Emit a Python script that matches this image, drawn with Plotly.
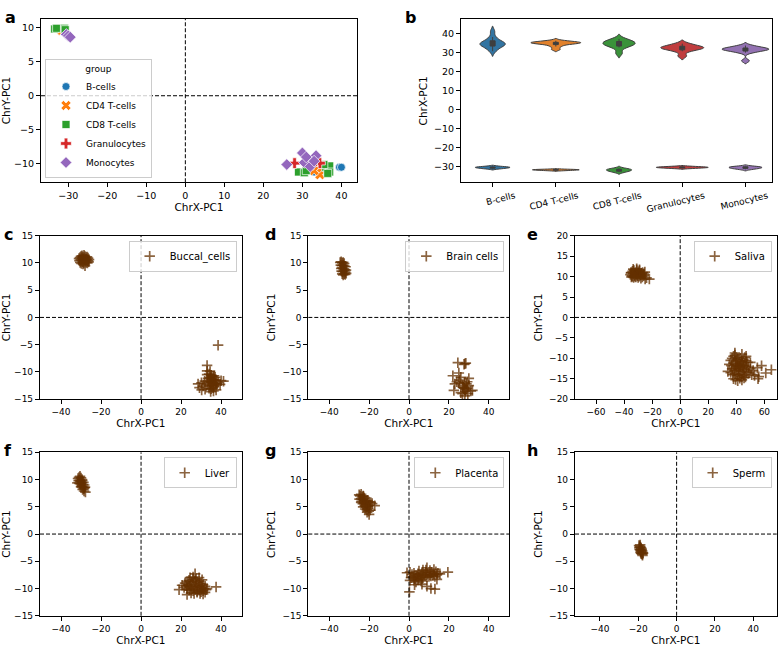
import plotly.graph_objects as go

# ---------------- data ----------------
groups = ["B-cells", "CD4 T-cells", "CD8 T-cells", "Granulocytes", "Monocytes"]

# panel a: ChrX-PC1 (x) vs ChrY-PC1 (y) per group
a_bcells_x = [39.5, 40.0, 33.0, 34.0, 35.0, 36.0]
a_bcells_y = [-10.5, -10.5, -11.2, -11.0, -10.8, -10.4]
a_cd4_x = [34.5, 33.0, 35.0, -32.0, -31.7]
a_cd4_y = [-11.6, -11.0, -10.6, 9.8, 9.6]
a_cd8_x = [29.0, 30.5, 31.0, 36.0, 37.0, 37.0, 36.5, 35.5, -33.5, -33.0, -31.0, -30.8]
a_cd8_y = [-11.2, -11.3, -11.0, -10.5, -10.3, -11.2, -11.4, -10.1, 9.8, 9.9, 9.9, 9.7]
a_gran_x = [28.0, 34.5, 32.5]
a_gran_y = [-9.9, -9.9, -10.1]
a_mono_x = [26.0, 30.0, 31.5, 33.5, 30.5, 32.0, 31.0, 33.0, -30.5, -30.0, -29.5]
a_mono_y = [-10.1, -8.4, -9.4, -8.8, -9.8, -10.4, -9.0, -9.6, 9.0, 8.8, 8.6]

# panel b: ChrX-PC1 samples per group (upper and lower mode)
b_top = [
    [30.5, 32.0, 33.0, 33.5, 34.0, 34.3, 34.6, 35.0, 35.5, 36.5, 38.0, 41.0],
    [31.5, 33.0, 34.0, 34.5, 34.8, 35.0, 35.0, 35.2, 35.5, 36.0],
    [29.5, 32.5, 33.5, 34.0, 34.5, 35.0, 35.5, 36.0, 37.0],
    [28.0, 30.5, 31.5, 32.0, 32.2, 32.5, 33.0, 33.5, 34.5],
    [25.5, 29.8, 30.5, 31.0, 31.3, 31.5, 31.7, 32.0, 32.3, 32.8, 33.5],
]
b_bottom = [
    [-31.2, -30.9, -30.6, -30.5, -30.3, -30.0],
    [-32.2, -32.0, -31.9, -31.8, -31.7, -31.6, -31.5],
    [-33.0, -32.5, -32.0, -31.8, -31.5, -31.0],
    [-31.0, -30.8, -30.6, -30.5, -30.4, -30.2, -30.0],
    [-31.5, -31.0, -30.8, -30.5, -30.2, -30.0],
]

# panels c-h: tissue samples
c_name = "Buccal_cells"
c_x = [-31.0, -30.5, -30.0, -29.5, -29.0, -28.5, -28.0, -27.5, -27.0, -26.5, -30.8, -30.2, -29.6, -29.0, -28.4, -27.8,
       -27.2, -26.6, -26.2, -30.4, -29.8, -29.2, -28.6, -28.0, -27.4, -26.8, -29.5, -28.5, -27.5, -28.0, -29.0, -26.0,
       33, 34, 35, 36, 37, 33.5, 34.5, 35.5, 36.5, 37.5, 34, 35, 36, 37, 33, 34.5, 35.5, 36.5, 38, 34, 35, 36, 33.5, 35,
       36.5, 37.5, 38.5, 34.5,
       38.5, 33.0, 33.0, 28.5, 29.2, 30.3, 31.0, 30.2, 32.0, 40.0, 41.2, 39.5, 37.5, 36.2, 34.8, 31.8]
c_y = [10.8, 11.0, 11.2, 11.3, 11.1, 11.4, 11.2, 11.0, 11.1, 10.9, 10.4, 10.6, 10.5, 10.7, 10.6, 10.5,
       10.6, 10.4, 10.2, 10.1, 9.9, 10.2, 10.0, 10.3, 10.1, 10.0, 10.9, 10.8, 10.7, 9.5, 9.8, 10.6,
       -10.5, -10.4, -10.6, -10.8, -11.0, -11.2, -11.1, -11.3, -11.4, -11.5, -11.8, -11.9, -12.0, -12.1, -12.2, -12.4,
       -12.5, -12.6, -12.2, -13.0, -13.1, -12.9, -11.6, -10.9, -10.7, -12.4, -11.9, -9.9,
       -5.1, -8.8, -9.8, -12.2, -12.9, -13.3, -12.6, -12.0, -13.2, -11.6, -11.7, -12.3, -13.3, -13.5, -13.6, -11.7]

d_name = "Brain cells"
d_x = [-34.5, -34.0, -33.5, -33.0, -32.5, -34.2, -33.6, -33.0, -32.4, -31.8, -34.0, -33.4, -32.8, -32.2, -31.6, -33.8,
       -33.2, -32.6, -32.0, -33.5, -32.5, -31.5, -33.0, -32.0,
       24.5, 28.0, 28.5, 27.6, 22.0, 25.0, 23.0, 22.5, 25.0, 26.0, 27.0, 28.0, 29.0, 30.0, 31.0, 28.0, 27.5, 29.5, 30.0,
       26.0, 24.0, 25.5, 27.0, 28.5, 28.8, 27.8, 28.2, 29.2, 26.8, 31.8]
d_y = [10.1, 10.2, 10.0, 10.1, 9.9, 9.6, 9.5, 9.6, 9.4, 9.3, 9.0, 9.1, 8.9, 8.8, 8.7, 8.5,
       8.4, 8.6, 8.3, 8.0, 8.0, 8.1, 7.8, 7.9,
       -8.3, -8.5, -8.4, -8.6, -10.7, -10.2, -12.2, -13.4, -12.0, -11.0, -12.5, -12.0, -13.0, -11.2, -13.5, -14.4, -13.0,
       -14.0, -12.5, -13.8, -11.8, -11.5, -12.8, -13.2, -12.2, -12.9, -13.6, -11.8, -14.0, -13.4]

e_name = "Saliva"
e_x = [-35.5, -35.0, -34.5, -34.0, -33.5, -33.0, -32.5, -32.0, -31.5, -31.0, -30.5, -30.0, -29.5, -29.0, -28.5, -34.8,
       -34.0, -33.2, -32.4, -31.6, -30.8, -30.0, -29.2, -28.4, -27.6, -26.8, -26.0, -25.2, -28.0, -27.0, -26.0, -25.0,
       -24.0, -22.0, -33.5, -31.0, -29.0, -35.0,
       36, 37, 38, 39, 40, 41, 42, 43, 44, 45, 46, 47, 48, 35, 36.5, 38, 39.5, 41, 42.5, 44, 45.5, 47, 48.5, 50, 37,
       38.5, 40, 41.5, 43, 44.5, 46, 47.5, 49, 36, 37.5, 39, 40.5, 42, 43.5, 45, 46.5, 38, 39.5, 41, 42.5, 44, 45.5, 40,
       41.5, 43, 39, 44, 47, 50, 52, 34, 51, 40, 42, 45,
       55, 58, 61, 65, 55.5, 53, 56]
e_y = [10.5, 11.0, 10.2, 11.3, 10.7, 11.5, 10.3, 11.0, 10.6, 11.6, 10.2, 11.2, 10.8, 11.4, 10.5, 9.9,
       10.0, 9.8, 10.1, 9.9, 10.4, 9.8, 10.1, 10.3, 10.8, 11.0, 10.6, 11.1, 9.6, 9.9, 10.2, 9.4,
       9.7, 9.4, 11.8, 11.9, 11.7, 10.9,
       -10.5, -10.0, -9.5, -9.2, -9.8, -10.2, -10.6, -10.0, -10.8, -10.4, -9.8, -10.6, -11.0, -11.5, -11.8, -11.2, -11.6,
       -11.4, -11.9, -11.3, -11.7, -12.0, -12.2, -12.6, -12.6, -13.0, -12.4, -12.8, -12.5, -13.2, -12.8, -13.4, -13.6,
       -13.5, -14.0, -13.8, -14.2, -13.9, -14.4, -14.1, -14.6, -15.0, -15.2, -15.5, -14.9, -15.3, -14.8, -12.0, -13.0,
       -11.6, -8.7, -9.0, -9.5, -11.0, -13.0, -13.2, -14.0, -10.8, -12.2, -12.0,
       -12.3, -11.8, -13.6, -12.8, -15.0, -14.2, -14.5]

f_name = "Liver"
f_x = [-31.5, -31.0, -30.5, -30.0, -29.5, -31.2, -30.6, -30.0, -29.4, -28.8, -30.8, -30.2, -29.6, -29.0, -28.4, -30.0,
       -29.4, -28.8, -28.2, -29.2, -28.6, -28.0, -28.5, -27.8, -30.5, -31.8,
       22, 23, 24, 25, 26, 27, 28, 29, 30, 31, 32, 22.5, 23.5, 24.5, 25.5, 26.5, 27.5, 28.5, 29.5, 30.5, 31.5, 32.5, 23,
       24, 25, 26, 27, 28, 29, 30, 31, 32, 24.5, 26, 27.5, 29, 30.5, 25, 26.5, 28, 29.5, 31, 33, 21.5, 27,
       19.0, 23.0, 37.5, 20.5]
f_y = [10.2, 10.4, 10.6, 10.3, 10.0, 9.8, 9.9, 9.7, 9.8, 9.5, 9.3, 9.2, 9.4, 9.1, 9.0, 8.7,
       8.8, 8.6, 8.5, 8.2, 8.3, 8.6, 7.9, 7.7, 9.6, 9.4,
       -9.0, -8.7, -8.5, -8.8, -8.3, -8.6, -8.9, -8.7, -9.1, -9.3, -9.6, -9.5, -9.3, -9.6, -9.2, -9.8, -9.4, -9.7, -9.5,
       -9.9, -10.0, -10.2, -10.1, -10.3, -10.0, -10.4, -10.2, -10.5, -10.3, -10.6, -10.4, -10.7, -8.0, -7.9, -8.2, -8.0,
       -8.4, -10.8, -10.9, -10.7, -10.9, -11.0, -10.0, -9.8, -7.3,
       -10.2, -11.1, -9.7, -9.4]

g_name = "Placenta"
g_x = [-25.0, -24.5, -24.0, -23.5, -23.0, -22.5, -24.8, -24.0, -23.2, -22.4, -21.6, -20.8, -24.0, -23.2, -22.4, -21.6,
       -20.8, -20.0, -19.2, -23.0, -22.2, -21.4, -20.6, -19.8, -18.5, -17.2, -22.0, -21.2, -20.4, -21.0, -20.2, -19.5,
       -20.0, -23.8, -22.8,
       -1.0, 0.5, 1.5, 2.5, 3.5, 4.5, 5.5, 6.5, 7.5, 8.5, 9.5, 10.5, 11.5, 12.5, 13.5, 14.5, 1.0, 2.0, 3.0, 4.0, 5.0, 6.0,
       7.0, 8.0, 9.0, 10.0, 11.0, 12.0, 13.0, 2.5, 4.5, 6.5, 8.5, 10.5, 12.5, 5.0, 7.0, 9.0, 14.0, 15.5, 3.5, 6.0,
       0.2, 2.8, 9.0, 11.0, 13.0, 19.5, 0.5, 6.5, 14.0]
g_y = [7.2, 7.0, 7.3, 6.8, 7.0, 6.6, 6.4, 6.5, 6.3, 6.2, 6.0, 6.1, 5.8, 5.6, 5.8, 5.5,
       5.7, 5.9, 5.8, 5.0, 5.2, 5.0, 5.1, 5.3, 5.6, 5.2, 4.6, 4.5, 4.7, 4.0, 4.2, 4.4,
       3.6, 6.0, 6.9,
       -7.1, -7.0, -7.4, -7.2, -7.6, -7.3, -7.5, -7.1, -7.4, -7.0, -7.2, -7.5, -7.0, -7.3, -6.9, -7.2, -8.0, -7.9, -8.2,
       -7.8, -8.1, -7.7, -8.0, -7.6, -7.9, -7.8, -7.7, -7.6, -7.8, -8.5, -8.4, -8.3, -6.6, -6.7, -6.5, -6.8, -6.6, -6.2,
       -7.5, -7.3, -8.8, -8.6,
       -10.6, -9.3, -9.6, -10.0, -10.1, -7.0, -8.5, -9.2, -8.3]

h_name = "Sperm"
h_x = [-19.6, -19.2, -19.0, -18.8, -18.5, -19.3, -18.9, -18.6, -18.2, -18.8, -18.4, -18.0, -17.7, -18.3, -17.9, -17.5,
       -17.8, -19.4, -18.6]
h_y = [-2.1, -2.3, -2.0, -2.4, -2.6, -2.8, -2.9, -3.0, -2.8, -3.3, -3.2, -3.1, -3.4, -3.6, -3.7, -3.5,
       -3.9, -2.5, -3.5]

# ---------------- styling ----------------
W, H = 778, 652
FONT = "DejaVu Sans"
scatter_colors = ["#1f77b4", "#ff7f0e", "#2ca02c", "#d62728", "#9467bd"]
violin_colors = ["#3274a1", "#e1812c", "#3a923a", "#c03d3e", "#9372b2"]
symbols = ["circle", "x", "square", "cross", "diamond"]
sym_sizes = [8, 9, 8, 9, 9]
brown = "rgba(100,48,0,0.75)"
top_widths = [0.40, 0.79, 0.51, 0.68, 0.74]
bot_widths = [0.55, 0.74, 0.40, 0.82, 0.52]
DASH = "4px,2px"


def xd(p0, p1):
    return [p0 / W, p1 / W]


def yd(p0, p1):
    return [1 - p1 / H, 1 - p0 / H]


fig = go.Figure()

# panel a
a_x = [a_bcells_x, a_cd4_x, a_cd8_x, a_gran_x, a_mono_x]
a_y = [a_bcells_y, a_cd4_y, a_cd8_y, a_gran_y, a_mono_y]
for i, g in enumerate(groups):
    fig.add_trace(go.Scatter(
        x=a_x[i], y=a_y[i], mode="markers", name=g, xaxis="x", yaxis="y", legend="legend",
        marker=dict(symbol=symbols[i], size=sym_sizes[i], color=scatter_colors[i],
                    line=dict(color="white", width=0.7))))

# panel b
for i, g in enumerate(groups):
    for vals, w in ((b_top[i], top_widths[i]), (b_bottom[i], bot_widths[i])):
        fig.add_trace(go.Violin(
            x=[g] * len(vals), y=vals, name=g, xaxis="x2", yaxis="y2", showlegend=False,
            width=w, scalemode="width", points=False, fillcolor=violin_colors[i],
            line=dict(color="#3f3f3f", width=1), opacity=1,
            box=dict(visible=True, width=min(0.25, 5.0 / (w * 63.2)), fillcolor="#3f3f3f",
                     line=dict(color="#3f3f3f", width=1)),
            meanline=dict(visible=False), hoveron="violins"))

# panels c-h
tissues = [(c_name, c_x, c_y), (d_name, d_x, d_y), (e_name, e_x, e_y),
           (f_name, f_x, f_y), (g_name, g_x, g_y), (h_name, h_x, h_y)]
for k, (nm, xs, ys) in enumerate(tissues):
    idx = k + 3
    fig.add_trace(go.Scatter(
        x=xs, y=ys, mode="markers", name=nm, xaxis=f"x{idx}", yaxis=f"y{idx}", legend=f"legend{k + 2}",
        marker=dict(symbol="cross-thin", size=7.5, color=brown, line=dict(color=brown, width=1.7))))

axis_common = dict(showline=True, mirror=True, linecolor="black", linewidth=1.2, ticks="outside",
                   ticklen=4, tickwidth=1, tickcolor="black", showgrid=False, zeroline=False,
                   tickfont=dict(size=9.5, family=FONT, color="black"))
title_font = dict(size=10.5, family=FONT, color="black")

layout = dict(
    width=W, height=H, margin=dict(l=0, r=0, t=0, b=0), paper_bgcolor="white", plot_bgcolor="white",
    font=dict(family=FONT, color="black"), violinmode="overlay",
)

# panel a axes
layout["xaxis"] = dict(axis_common, domain=xd(41, 357), range=[-37, 44], tickvals=[-30, -20, -10, 0, 10, 20, 30, 40],
                       anchor="y", title=dict(text="ChrX-PC1", font=title_font, standoff=2))
layout["yaxis"] = dict(axis_common, domain=yd(14, 180), range=[-12.7, 11.3], tickvals=[-10, -5, 0, 5, 10],
                       anchor="x", title=dict(text="ChrY-PC1", font=title_font, standoff=4))
# panel b axes
layout["xaxis2"] = dict(axis_common, domain=xd(461, 772), type="category", range=[-0.5, 4.42],
                        categoryorder="array", categoryarray=groups, anchor="y2", tickangle=-14,
                        ticklabelshift=22, tickfont=dict(size=9, family=FONT, color="black"))
layout["yaxis2"] = dict(axis_common, domain=yd(14.7, 180), range=[-38.3, 47.2],
                        tickvals=[-30, -20, -10, 0, 10, 20, 30, 40], anchor="x2",
                        title=dict(text="ChrX-PC1", font=title_font, standoff=4))

# panels c-h axes
boxes = [
    (xd(40, 241.7), yd(234.3, 400.3), [-50.5, 50.3], [-15, 15], [-40, -20, 0, 20, 40], [-15, -10, -5, 0, 5, 10, 15]),
    (xd(308.3, 509.3), yd(234.3, 400.3), [-50.5, 50.3], [-15, 15], [-40, -20, 0, 20, 40], [-15, -10, -5, 0, 5, 10, 15]),
    (xd(575, 776.7), yd(234.3, 400.3), [-75, 68.8], [-20, 20], [-60, -40, -20, 0, 20, 40, 60],
     [-20, -15, -10, -5, 0, 5, 10, 15, 20]),
    (xd(40, 241.7), yd(454.3, 620.3), [-50.5, 50.3], [-15, 15], [-40, -20, 0, 20, 40], [-15, -10, -5, 0, 5, 10, 15]),
    (xd(308.3, 509.3), yd(454.3, 620.3), [-50.5, 50.3], [-15, 15], [-40, -20, 0, 20, 40], [-15, -10, -5, 0, 5, 10, 15]),
    (xd(575, 776.7), yd(454.3, 620.3), [-53, 52.2], [-15, 15], [-40, -20, 0, 20, 40], [-15, -10, -5, 0, 5, 10, 15]),
]
for k, (dx, dy, xr, yr, xt, yt) in enumerate(boxes):
    idx = k + 3
    layout[f"xaxis{idx}"] = dict(axis_common, domain=dx, range=xr, tickvals=xt, anchor=f"y{idx}",
                                 tickfont=dict(size=9, family=FONT, color="black"),
                                 title=dict(text="ChrX-PC1", font=title_font, standoff=2))
    layout[f"yaxis{idx}"] = dict(axis_common, domain=dy, range=yr, tickvals=yt, anchor=f"x{idx}",
                                 tickfont=dict(size=9, family=FONT, color="black"),
                                 title=dict(text="ChrY-PC1", font=title_font, standoff=4))
    layout[f"legend{k + 2}"] = dict(
        x=dx[1] - 5 / W, xanchor="right", y=dy[1] - 5 / H, yanchor="top",
        bgcolor="rgba(255,255,255,0.8)", bordercolor="#cccccc", borderwidth=1,
        font=dict(size=10, family=FONT, color="black"), itemsizing="trace")

layout["legend"] = dict(
    x=45 / W, xanchor="left", y=1 - 176 / H, yanchor="bottom",
    bgcolor="rgba(255,255,255,0.8)", bordercolor="#cccccc", borderwidth=1,
    font=dict(size=9, family=FONT, color="black"), itemsizing="trace",
    title=dict(text="group", side="top center", font=dict(size=9, family=FONT, color="black")))

fig.update_layout(**layout)

# dashed zero lines for scatter panels
shapes = []
for idx in ["", "3", "4", "5", "6", "7", "8"]:
    shapes.append(dict(type="line", xref=f"x{idx}", yref=f"y{idx} domain", x0=0, x1=0, y0=0, y1=1,
                       line=dict(color="black", width=1, dash=DASH), layer="above"))
    shapes.append(dict(type="line", xref=f"x{idx} domain", yref=f"y{idx}", x0=0, x1=1, y0=0, y1=0,
                       line=dict(color="black", width=1, dash=DASH), layer="above"))
fig.update_layout(shapes=shapes)

# panel letters
letters = [("a", 3, 1), ("b", 403, 1), ("c", 2, 221), ("d", 263, 221), ("e", 525, 221),
           ("f", 2, 441), ("g", 263, 441), ("h", 525, 441)]
for t, px, py in letters:
    fig.add_annotation(text=f"<b>{t}</b>", xref="paper", yref="paper", x=px / W, y=1 - py / H,
                       xanchor="left", yanchor="top", showarrow=False,
                       font=dict(size=16, family=FONT, color="black"))

fig.write_html("out.html", config={"displayModeBar": False},
               post_script="document.body.style.margin='0';document.body.style.overflow='hidden';")
